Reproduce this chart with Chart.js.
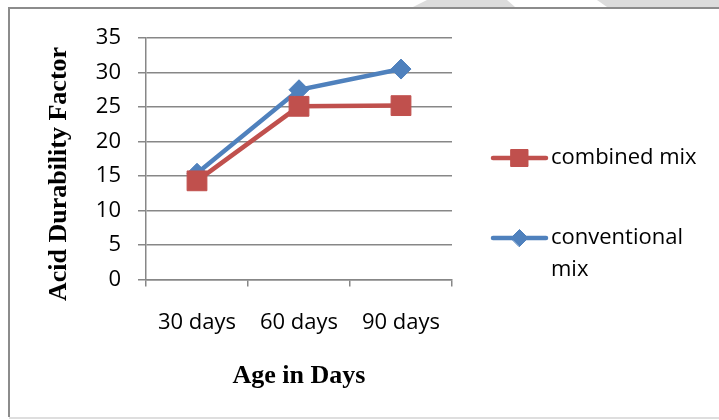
<!DOCTYPE html>
<html>
<head>
<meta charset="utf-8">
<script src="https://cdn.jsdelivr.net/npm/chart.js@4"></script>
<style>
  html, body { margin: 0; padding: 0; background: #fff; }
  #wrap { position: relative; width: 719px; height: 420px; }
  canvas { display: block; }
</style>
</head>
<body>
<div id="wrap"><canvas id="c" width="719" height="420"></canvas></div>
<script>
// ---- data ----
const categories = ['30 days', '60 days', '90 days'];
const seriesNames = ['combined mix', 'conventional mix'];
const legendLines = [['combined mix'], ['conventional', 'mix']];
const combinedMix = [14.3, 25.1, 25.2];
const conventionalMix = [15.4, 27.5, 30.5];
const yTicks = [0, 5, 10, 15, 20, 25, 30, 35];
const xTitle = 'Age in Days';
const yTitle = 'Acid Durability Factor';

const RED = '#C0504D';
const BLUE = '#4F81BD';
const GRID = '#878787';
const TICK_FONT = "'Open Sans', 'Noto Sans', sans-serif";
const TITLE_FONT = "'Liberation Serif', 'DejaVu Serif', serif";

const decorPlugin = {
  id: 'decor',
  beforeDraw(chart) {
    const ctx = chart.ctx;
    ctx.save();
    ctx.fillStyle = '#fff';
    ctx.fillRect(0, 0, chart.width, chart.height);
    // light grey shapes above frame
    ctx.fillStyle = '#dcdcdc';
    ctx.beginPath();
    ctx.moveTo(413, 7); ctx.lineTo(427, 0); ctx.lineTo(507, 0); ctx.lineTo(515, 7); ctx.closePath();
    ctx.fill();
    ctx.beginPath();
    ctx.moveTo(607, 7); ctx.lineTo(597, 0); ctx.lineTo(719, 0); ctx.lineTo(719, 7); ctx.closePath();
    ctx.fill();
    // frame
    ctx.strokeStyle = '#8c8c8c';
    ctx.lineWidth = 2;
    ctx.beginPath();
    ctx.moveTo(719, 8); ctx.lineTo(9, 8); ctx.lineTo(9, 417);
    ctx.stroke();
    ctx.strokeStyle = '#dedede';
    ctx.beginPath();
    ctx.moveTo(9, 418); ctx.lineTo(719, 418);
    ctx.stroke();
    ctx.restore();
  },
  afterDraw(chart) {
    const ctx = chart.ctx;
    ctx.save();
    // y axis title
    ctx.font = "bold 26px " + TITLE_FONT;
    ctx.fillStyle = '#000';
    ctx.textAlign = 'center';
    ctx.textBaseline = 'middle';
    ctx.translate(59, 174);
    ctx.rotate(-Math.PI / 2);
    ctx.fillText(yTitle, 0, 0);
    ctx.restore();

    // legend
    ctx.save();
    const entries = [
      { ds: chart.data.datasets[0], lines: legendLines[0], y: 158 },
      { ds: chart.data.datasets[1], lines: legendLines[1], y: 238 }
    ];
    entries.forEach(e => {
      ctx.strokeStyle = e.ds.borderColor;
      ctx.lineWidth = e.ds.borderWidth;
      ctx.lineCap = 'round';
      ctx.beginPath();
      ctx.moveTo(493, e.y); ctx.lineTo(546, e.y);
      ctx.stroke();
      ctx.fillStyle = e.ds.pointBackgroundColor;
      ctx.strokeStyle = e.ds.pointBorderColor;
      ctx.lineWidth = 1;
      Chart.helpers.drawPoint(ctx, {
        pointStyle: e.ds.pointStyle,
        radius: e.ds.pointStyle === 'rect' ? 12 : 8.5,
        rotation: 0,
        borderWidth: 1
      }, 519.5, e.y);
      ctx.fillStyle = '#000';
      ctx.font = "22px " + TICK_FONT;
      ctx.textAlign = 'left';
      ctx.textBaseline = 'middle';
      e.lines.forEach((t, i) => ctx.fillText(t, 551, e.y + i * 32));
    });
    ctx.restore();
  }
};

new Chart(document.getElementById('c'), {
  type: 'line',
  data: {
    labels: categories,
    datasets: [
      {
        label: seriesNames[0],
        data: combinedMix,
        borderColor: RED,
        backgroundColor: RED,
        pointBackgroundColor: RED,
        pointBorderColor: RED,
        borderWidth: 4.5,
        pointStyle: 'rect',
        pointRadius: 14,
        pointBorderWidth: 1,
        tension: 0
      },
      {
        label: seriesNames[1],
        data: conventionalMix,
        borderColor: BLUE,
        backgroundColor: BLUE,
        pointBackgroundColor: BLUE,
        pointBorderColor: BLUE,
        borderWidth: 4.5,
        pointStyle: 'rectRot',
        pointRadius: 10,
        pointBorderWidth: 1,
        tension: 0
      }
    ]
  },
  options: {
    responsive: false,
    animation: false,
    devicePixelRatio: 1,
    layout: { padding: { left: 0, right: 267, top: 38, bottom: 0 } },
    plugins: {
      legend: { display: false },
      tooltip: { enabled: false }
    },
    scales: {
      x: {
        type: 'category',
        offset: true,
        grid: {
          offset: true,
          display: true,
          drawOnChartArea: false,
          drawTicks: true,
          tickLength: 7,
          color: GRID,
          lineWidth: 1.5
        },
        border: { display: true, color: GRID, width: 1.5 },
        ticks: {
          color: '#000',
          font: { family: TICK_FONT, size: 22 },
          padding: 23,
          maxRotation: 0,
          autoSkip: false
        },
        title: {
          display: true,
          text: xTitle,
          color: '#000',
          font: { family: TITLE_FONT, size: 26, weight: 'bold' },
          padding: { top: 0, bottom: 28 }
        },
        afterFit(scale) { scale.height = 140.5; }
      },
      y: {
        min: 0,
        max: 35,
        afterBuildTicks(scale) { scale.ticks = yTicks.map(v => ({ value: v })); },
        grid: {
          color: GRID,
          lineWidth: 1.5,
          drawTicks: true,
          tickLength: 8
        },
        border: { display: true, color: GRID, width: 1.5 },
        ticks: {
          color: '#000',
          font: { family: TICK_FONT, size: 22 },
          padding: 17
        },
        afterFit(scale) { scale.width = 146; }
      }
    }
  },
  plugins: [decorPlugin]
});
</script>
</body>
</html>
